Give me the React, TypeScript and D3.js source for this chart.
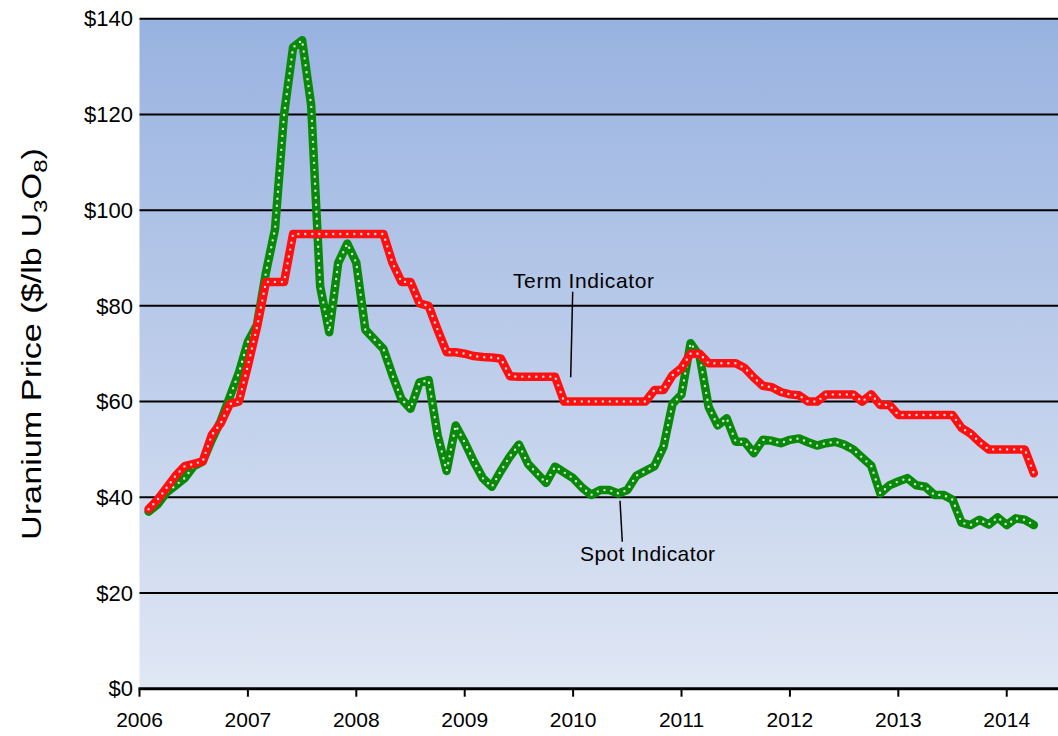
import * as d3 from "d3";

// monthly indicator prices, Jan 2006 .. Mar 2014 ($/lb U3O8)
const startYear = 2006;
const spotPrices = [
  37, 38.5, 41, 42.5, 44, 46.5, 47.5, 52, 56, 61, 66, 72.5,
  76, 87, 96, 120, 134, 135.5, 122, 84, 74.5, 89, 93, 89,
  75, 73, 71, 65.5, 60.5, 58.5, 64, 64.5, 53, 45.5, 55, 51.5,
  47.5, 44, 42.2, 45.5, 48.5, 51, 47, 45, 43, 46.4, 45.2, 44,
  42, 40.5, 41.5, 41.5, 40.8, 41.5, 44.5, 45.5, 46.5, 50.5, 59.5, 61.5,
  72.2, 69.5, 58.9, 55, 56.5, 51.6, 51.6, 49.2, 52, 51.8, 51.3, 52,
  52.3, 51.5, 50.8, 51.3, 51.6, 51, 50, 48.3, 46.6, 40.8, 42.5, 43.3,
  44, 42.5, 42.2, 40.5, 40.5, 39.5, 34.7, 34.2, 35.3, 34.3, 35.8, 34.2,
  35.6, 35.3, 34.2,
];
const termPrices = [
  37.5, 39.5, 42, 44.5, 46.5, 47, 47.5, 53, 55.5, 59.5, 60, 67.5,
  75.5, 85, 85, 85, 95, 95, 95, 95, 95, 95, 95, 95,
  95, 95, 95, 89, 85, 85, 80.5, 80, 75, 70.3, 70.3, 70,
  69.5, 69.3, 69.2, 69, 65.3, 65.2, 65.2, 65.2, 65.2, 65.2, 60, 60,
  60, 60, 60, 60, 60, 60, 60, 60, 62.4, 62.4, 65.5, 67,
  70, 70, 68, 68, 68, 68, 67, 65, 63.3, 63, 62, 61.5,
  61.3, 60, 60, 61.5, 61.5, 61.5, 61.5, 60, 61.5, 59.3, 59.3, 57.2,
  57.2, 57.2, 57.2, 57.2, 57.2, 57.2, 54.5, 53.3, 51.5, 50, 50, 50,
  50, 50, 45,
];
const yearTicks = [2006, 2007, 2008, 2009, 2010, 2011, 2012, 2013, 2014];
const priceTicks = [0, 20, 40, 60, 80, 100, 120, 140];

const W = 1058;
const H = 736;
const left = 139.5;
const right = 1058;
const top = 18.7;
const bottom = 688.7;
const font = "'Liberation Sans', Arial, sans-serif";

export default function App() {
  const x = d3.scaleLinear().domain([2006, 2014.473]).range([left, right]);
  const y = d3.scaleLinear().domain([0, 140]).range([bottom, top]);

  const toPts = (arr: number[]) =>
    arr.map((v, i) => ({ t: startYear + (i + 1) / 12, v }));

  const line = d3
    .line<{ t: number; v: number }>()
    .x((d) => x(d.t))
    .y((d) => y(d.v));

  const spotPath = line(toPts(spotPrices)) || "";
  const termPath = line(toPts(termPrices)) || "";

  const series = [
    { d: spotPath, color: "#088a08" },
    { d: termPath, color: "#ff1010" },
  ];

  return (
    <svg
      width={W}
      height={H}
      style={{ position: "absolute", left: 0, top: 0, background: "#fff" }}
      fontFamily={font}
    >
      <defs>
        <linearGradient id="bg" x1="0" y1="0" x2="0" y2="1">
          <stop offset="0%" stopColor="#98b2e0" />
          <stop offset="100%" stopColor="#e0e7f4" />
        </linearGradient>
        <clipPath id="plot">
          <rect x={left} y={0} width={right - left} height={bottom} />
        </clipPath>
      </defs>

      <rect x={left} y={top} width={right - left} height={bottom - top} fill="url(#bg)" />

      {/* gridlines */}
      {priceTicks
        .filter((p) => p > 0)
        .map((p) => (
          <line key={p} x1={left} x2={right} y1={y(p)} y2={y(p)} stroke="#000" strokeWidth={2} />
        ))}

      {/* y tick labels */}
      {priceTicks.map((p) => (
        <text
          key={p}
          x={133}
          y={y(p)}
          dy="0.35em"
          textAnchor="end"
          fontSize={22}
          fill="#000"
        >
          ${p}
        </text>
      ))}

      {/* series */}
      <g clipPath="url(#plot)">
        {series.map((s, i) => (
          <g key={i}>
            <path d={s.d} fill="none" stroke={s.color} strokeWidth={8.5} strokeLinejoin="round" strokeLinecap="round" />
            <path
              d={s.d}
              fill="none"
              stroke="#fff"
              strokeOpacity={0.85}
              strokeWidth={2.4}
              strokeDasharray="0 7"
              strokeLinecap="round"
              strokeLinejoin="round"
            />
          </g>
        ))}
      </g>

      {/* x axis */}
      <line x1={left - 1} x2={right} y1={bottom} y2={bottom} stroke="#000" strokeWidth={3} />
      {yearTicks.map((t) => (
        <g key={t}>
          <line x1={x(t)} x2={x(t)} y1={bottom} y2={bottom + 8} stroke="#000" strokeWidth={2} />
          <text x={x(t)} y={727} textAnchor="middle" fontSize={21} fill="#000">
            {t}
          </text>
        </g>
      ))}

      {/* y axis title */}
      <text
        transform={`translate(41, 344) rotate(-90)`}
        textAnchor="middle"
        fontSize={27}
        fill="#000"
        textLength={392}
        lengthAdjust="spacingAndGlyphs"
      >
        Uranium Price ($/lb U
        <tspan fontSize={19} dy={6}>3</tspan>
        <tspan dy={-6}>O</tspan>
        <tspan fontSize={19} dy={6}>8</tspan>
        <tspan dy={-6}>)</tspan>
      </text>

      {/* annotations */}
      <text x={513} y={288} fontSize={21} fill="#000" textLength={141}>
        Term Indicator
      </text>
      <line x1={572.7} y1={291.7} x2={570.7} y2={377.3} stroke="#000" strokeWidth={1.5} />
      <text x={580} y={561} fontSize={21} fill="#000" textLength={135}>
        Spot Indicator
      </text>
      <line x1={620} y1={500.7} x2={622.3} y2={541.7} stroke="#000" strokeWidth={1.5} />
    </svg>
  );
}
